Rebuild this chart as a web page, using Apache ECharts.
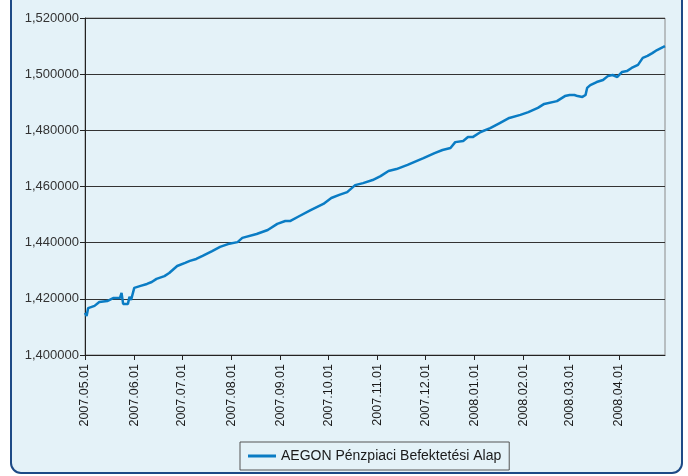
<!DOCTYPE html>
<html lang="hu">
<head>
    <meta charset="UTF-8">
    <title>AEGON Pénzpiaci Befektetési Alap</title>
    <script src="https://cdn.jsdelivr.net/npm/echarts@6/dist/echarts.min.js"></script>
    <style>
        html, body { margin: 0; padding: 0; background: #fff; }
        #chart { width: 688px; height: 476px; }
    </style>
</head>
<body>
<div id="chart"></div>
<script type="text/javascript">
    // árfolyam adatok (leolvasva)
    var seriesName = 'AEGON Pénzpiaci Befektetési Alap'
    var dates = [
        '2007-05-01', '2007-05-02', '2007-05-03', '2007-05-07', '2007-05-10', '2007-05-15', '2007-05-19',
        '2007-05-23', '2007-05-24', '2007-05-25', '2007-05-28', '2007-05-29', '2007-05-30', '2007-06-01',
        '2007-06-05', '2007-06-09', '2007-06-12', '2007-06-15', '2007-06-20', '2007-06-23', '2007-06-28',
        '2007-07-03', '2007-07-06', '2007-07-10', '2007-07-14', '2007-07-20', '2007-07-25', '2007-07-30',
        '2007-08-05', '2007-08-08', '2007-08-17', '2007-08-24', '2007-08-30', '2007-09-04', '2007-09-07',
        '2007-09-13', '2007-09-20', '2007-09-28', '2007-10-03', '2007-10-08', '2007-10-13', '2007-10-18',
        '2007-10-23', '2007-10-29', '2007-11-03', '2007-11-08', '2007-11-13', '2007-11-20', '2007-11-27',
        '2007-11-30', '2007-12-07', '2007-12-12', '2007-12-17', '2007-12-20', '2007-12-25', '2007-12-28',
        '2007-12-31', '2008-01-05', '2008-01-11', '2008-01-17', '2008-01-23', '2008-01-30', '2008-02-04',
        '2008-02-10', '2008-02-14', '2008-02-22', '2008-02-27', '2008-03-01', '2008-03-04', '2008-03-06',
        '2008-03-09', '2008-03-11', '2008-03-12', '2008-03-14', '2008-03-18', '2008-03-22', '2008-03-25',
        '2008-03-28', '2008-03-31', '2008-04-03', '2008-04-06', '2008-04-09', '2008-04-13', '2008-04-16',
        '2008-04-19', '2008-04-22', '2008-04-25', '2008-04-29', '2008-04-30'
    ]
    var values = [
        1.4150, 1.4139, 1.4167, 1.4175, 1.4189, 1.4192, 1.4203,
        1.4203, 1.4221, 1.4182, 1.4182, 1.4207, 1.4196, 1.4239,
        1.4246, 1.4253, 1.4260, 1.4271, 1.4281, 1.4292, 1.4317,
        1.4328, 1.4335, 1.4342, 1.4353, 1.4370, 1.4385, 1.4395,
        1.4402, 1.4417, 1.4431, 1.4445, 1.4467, 1.4477, 1.4477,
        1.4495, 1.4516, 1.4538, 1.4559, 1.4570, 1.4580, 1.4605,
        1.4612, 1.4623, 1.4637, 1.4655, 1.4662, 1.4677, 1.4694,
        1.4701, 1.4719, 1.4730, 1.4737, 1.4758, 1.4762, 1.4776,
        1.4776, 1.4794, 1.4808, 1.4826, 1.4844, 1.4855, 1.4865,
        1.4880, 1.4894, 1.4904, 1.4922, 1.4926, 1.4926, 1.4922,
        1.4919, 1.4926, 1.4951, 1.4961, 1.4972, 1.4979, 1.4993,
        1.4997, 1.4990, 1.5008, 1.5011, 1.5022, 1.5033, 1.5058,
        1.5065, 1.5075, 1.5086, 1.5097, 1.5100
    ]

    var lineData = []
    for (let i = 0; i < dates.length; i++) {
        lineData.push([dates[i], values[i]])
    }

    function pad(n) {
        return n < 10 ? '0' + n : '' + n
    }

    var chart = echarts.init(document.getElementById('chart'))

    var option = {
        backgroundColor: '#ffffff',
        animation: false,
        textStyle: { fontFamily: 'Liberation Sans, Arial, sans-serif' },
        graphic: [
            {
                type: 'rect',
                z: -10,
                silent: true,
                shape: { x: 11, y: -20, width: 671, height: 493, r: 10 },
                style: { fill: '#e4f2f8', stroke: '#1d4a86', lineWidth: 2 }
            }
        ],
        grid: {
            left: 85,
            right: 23,
            top: 18,
            bottom: 121,
            show: true,
            backgroundColor: 'transparent',
            borderColor: '#8a8a8a',
            borderWidth: 1
        },
        legend: {
            left: 240,
            top: 442,
            padding: [7, 8, 7, 8],
            borderColor: '#555',
            borderWidth: 1,
            itemWidth: 28,
            itemHeight: 3,
            textStyle: { color: '#1a1a1a', fontSize: 14 },
            data: [{ name: seriesName, icon: 'rect' }]
        },
        xAxis: {
            type: 'time',
            min: '2007-05-01',
            max: '2008-04-30',
            splitNumber: 12,
            axisLine: { lineStyle: { color: '#222', width: 1 } },
            axisTick: { show: true, length: 5, lineStyle: { color: '#222' } },
            splitLine: { show: false },
            axisLabel: {
                rotate: 90,
                color: '#1a1a1a',
                fontSize: 12.5,
                margin: 9,
                showMinLabel: true,
                showMaxLabel: false,
                formatter: function (v) {
                    var d = new Date(v)
                    return d.getFullYear() + '.' + pad(d.getMonth() + 1) + '.' + pad(d.getDate())
                }
            }
        },
        yAxis: {
            type: 'value',
            min: 1.40,
            max: 1.52,
            interval: 0.02,
            axisLine: { show: true, lineStyle: { color: '#222', width: 1 } },
            axisTick: { show: true, length: 5, lineStyle: { color: '#222' } },
            splitLine: { show: true, lineStyle: { color: '#333', width: 1 } },
            axisLabel: {
                color: '#333',
                fontSize: 13,
                margin: 6,
                formatter: function (v) {
                    return v.toFixed(6).replace('.', ',')
                }
            }
        },
        series: [
            {
                name: seriesName,
                type: 'line',
                data: lineData,
                showSymbol: false,
                symbol: 'none',
                lineStyle: { color: '#0a7cc4', width: 2.5 },
                itemStyle: { color: '#0a7cc4' }
            }
        ]
    }

    chart.setOption(option)
</script>
</body>
</html>
